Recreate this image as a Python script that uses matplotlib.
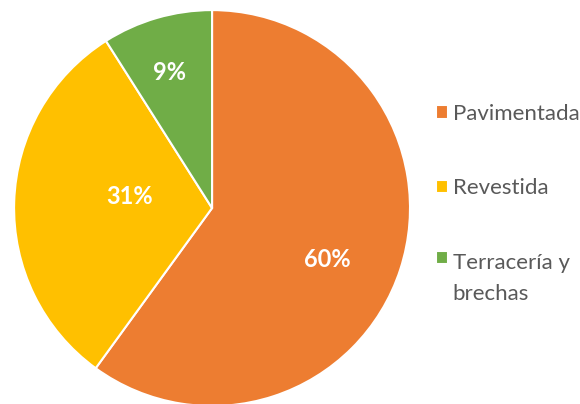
import matplotlib
matplotlib.use("Agg")
import matplotlib.pyplot as plt
import numpy as np

categories = ["Pavimentada", "Revestida", "Terracería y\nbrechas"]
values = [60, 31, 9]
colors = ["#ED7D31", "#FFC000", "#70AD47"]
label_radius = [0.64, 0.42, 0.72]
label_angle_shift = [-6, -6, 1.3]

plt.rcParams['font.family'] = ['Lato', 'DejaVu Sans']

fig = plt.figure(figsize=(5.8, 4.04), dpi=100)
ax = fig.add_axes([0.0241, -0.005, 0.683, 0.980])
wedges, texts, autotexts = ax.pie(
    values, colors=colors, startangle=90, counterclock=False,
    autopct=lambda p: f"{p:.0f}%", pctdistance=0.6,
    wedgeprops=dict(edgecolor="white", linewidth=1.5),
    textprops=dict(color="white", fontsize=17, fontweight="bold"))
for w, t, r, s in zip(wedges, autotexts, label_radius, label_angle_shift):
    ang = np.deg2rad((w.theta1 + w.theta2) / 2 + s)
    t.set_position((r * np.cos(ang), r * np.sin(ang)))
ax.set_xlim(-1, 1)
ax.set_ylim(-1, 1)
ax.set_aspect("equal")

leg = fig.legend(wedges, categories, loc="upper left", bbox_to_anchor=(0.752, 0.743),
                 frameon=False, fontsize=16, labelspacing=2.45, handlelength=0.55,
                 handleheight=0.55, handletextpad=0.2, labelcolor="#595959",
                 borderpad=0, borderaxespad=0)
for t in leg.get_texts():
    t.set_linespacing(1.72)
h = leg.legend_handles[2]
h.set_y(h.get_y() + 15)
fig.savefig("out.png", dpi=100)
